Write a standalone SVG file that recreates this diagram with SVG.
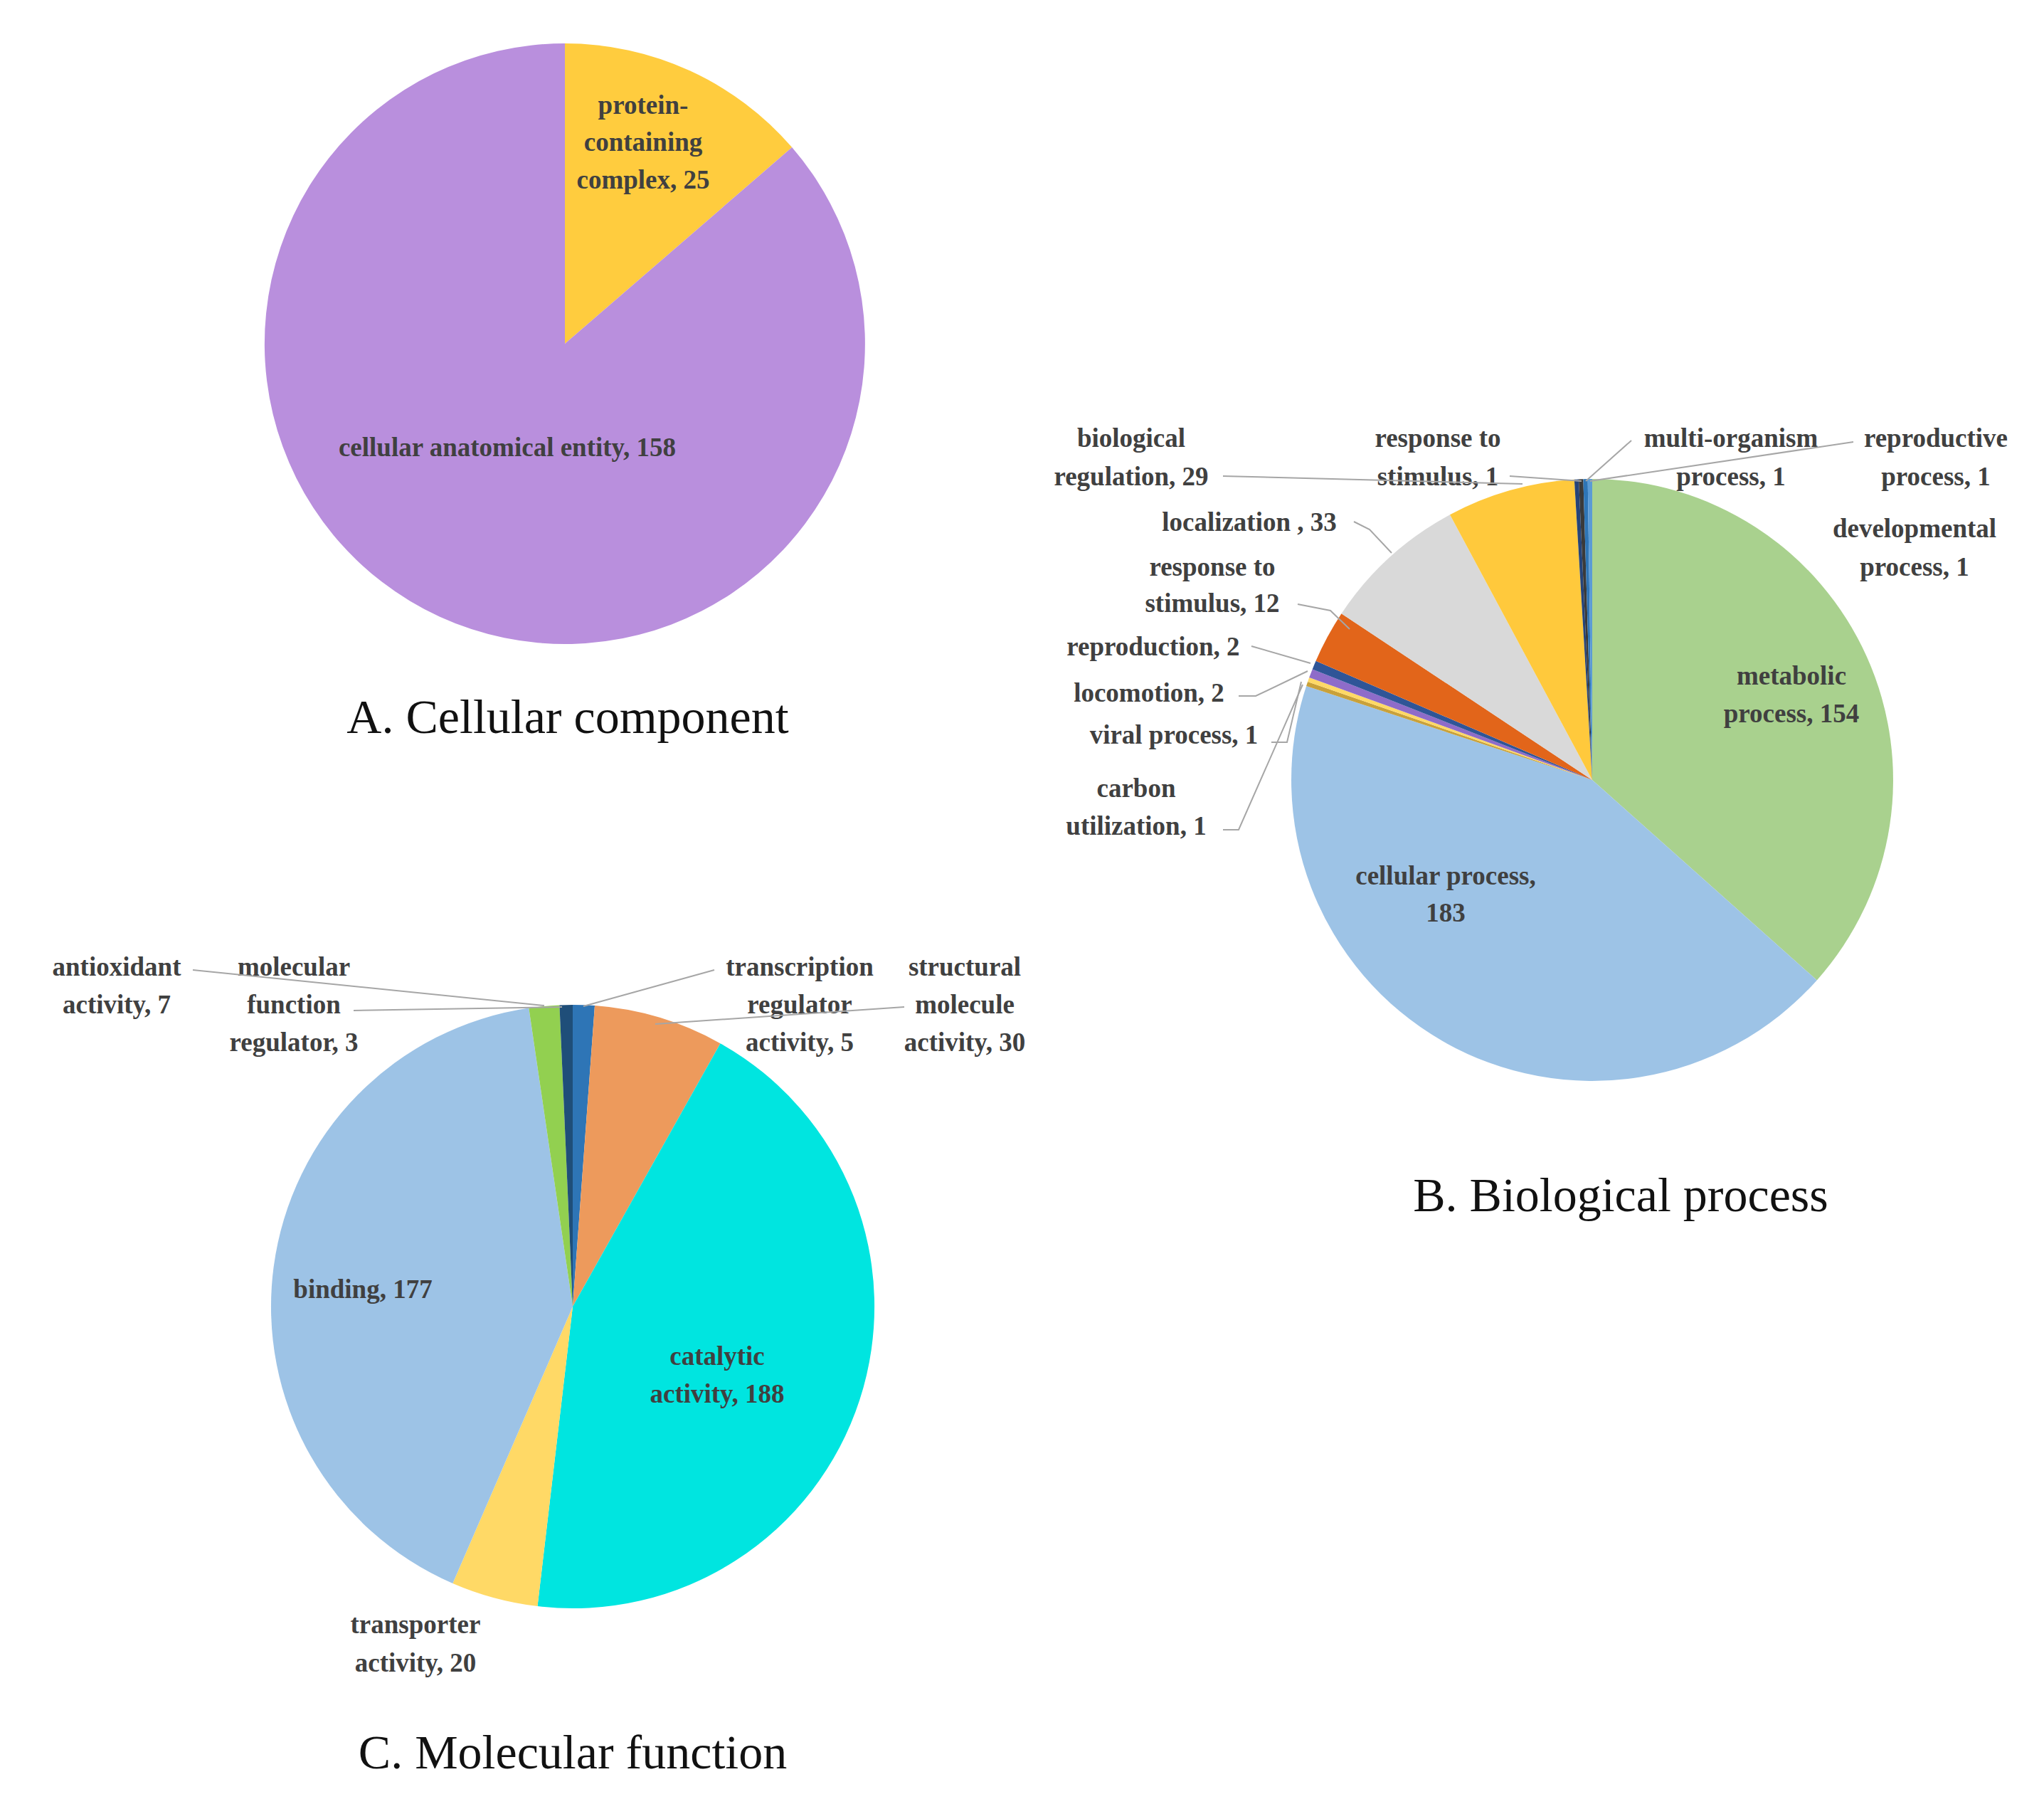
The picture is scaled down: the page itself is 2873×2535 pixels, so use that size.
<svg xmlns="http://www.w3.org/2000/svg" width="2873" height="2535" viewBox="0 0 2873 2535">
<style>
.l{font-family:"Liberation Serif",serif;font-weight:bold;font-size:37px;fill:#404040;text-anchor:middle}
.t{font-family:"Liberation Serif",serif;font-size:68px;fill:#111;text-anchor:middle}
.ln{stroke:#a6a6a6;stroke-width:2;fill:none}
</style>
<rect width="2873" height="2535" fill="#fff"/>
<g id="pieA">
<path d="M794,483 L794,61 A422,422 0 0 1 1113.2,207.1 Z" fill="#ffcc3e"/>
<path d="M794,483 L1113.2,207.1 A422,422 0 1 1 794,61 Z" fill="#b98fdd"/>
<text class="l" x="904" y="160">protein-</text>
<text class="l" x="904" y="212">containing</text>
<text class="l" x="904" y="265">complex, 25</text>
<text class="l" x="713" y="641">cellular anatomical entity, 158</text>
<text class="t" x="798" y="1030">A. Cellular component</text>
</g>
<g id="pieB">
<path d="M2238,1096 L2238,673 A423,423 0 0 1 2553.8,1377.4 Z" fill="#a9d18e"/>
<path d="M2238,1096 L2553.8,1377.4 A423,423 0 0 1 1836.1,964.1 Z" fill="#9dc3e6"/>
<path d="M2238,1096 L1836.1,964.1 A423,423 0 0 1 1838.1,958.1 Z" fill="#c9a13a"/>
<path d="M2238,1096 L1838.1,958.1 A423,423 0 0 1 1840.2,952.1 Z" fill="#ffd966"/>
<path d="M2238,1096 L1840.2,952.1 A423,423 0 0 1 1844.7,940.4 Z" fill="#8e6cc9"/>
<path d="M2238,1096 L1844.7,940.4 A423,423 0 0 1 1849.5,928.7 Z" fill="#2f5597"/>
<path d="M2238,1096 L1849.5,928.7 A423,423 0 0 1 1885.5,862.2 Z" fill="#e2651a"/>
<path d="M2238,1096 L1885.5,862.2 A423,423 0 0 1 2038,723.3 Z" fill="#d9d9d9"/>
<path d="M2238,1096 L2038,723.3 A423,423 0 0 1 2212.8,673.8 Z" fill="#ffc93c"/>
<path d="M2238,1096 L2212.8,673.8 A423,423 0 0 1 2219,673.4 Z" fill="#264478"/>
<path d="M2238,1096 L2219,673.4 A423,423 0 0 1 2225.4,673.2 Z" fill="#3a3a3a"/>
<path d="M2238,1096 L2225.4,673.2 A423,423 0 0 1 2231.7,673 Z" fill="#2e75b6"/>
<path d="M2238,1096 L2231.7,673 A423,423 0 0 1 2238,673 Z" fill="#5b9bd5"/>
<text class="l" x="1590" y="628">biological</text>
<text class="l" x="1590" y="682">regulation, 29</text>
<text class="l" x="2021" y="628">response to</text>
<text class="l" x="2021" y="682">stimulus, 1</text>
<text class="l" x="2433" y="628">multi-organism</text>
<text class="l" x="2433" y="682">process, 1</text>
<text class="l" x="2721" y="628">reproductive</text>
<text class="l" x="2721" y="682">process, 1</text>
<text class="l" x="2691" y="755">developmental</text>
<text class="l" x="2691" y="809">process, 1</text>
<text class="l" x="1756" y="746">localization , 33</text>
<text class="l" x="1704" y="809">response to</text>
<text class="l" x="1704" y="860">stimulus, 12</text>
<text class="l" x="1621" y="921">reproduction, 2</text>
<text class="l" x="1615" y="986">locomotion, 2</text>
<text class="l" x="1650" y="1045">viral process, 1</text>
<text class="l" x="1597" y="1120">carbon</text>
<text class="l" x="1597" y="1173">utilization, 1</text>
<text class="l" x="2518" y="962">metabolic</text>
<text class="l" x="2518" y="1015">process, 154</text>
<text class="l" x="2032" y="1243">cellular process,</text>
<text class="l" x="2032" y="1295">183</text>
<text class="t" x="2278" y="1702">B. Biological process</text>
</g>
<g id="pieC">
<path d="M805,1836 L805,1412 A424,424 0 0 1 836,1413.1 Z" fill="#2e75b6"/>
<path d="M805,1836 L836,1413.1 A424,424 0 0 1 1012.5,1466.2 Z" fill="#ed9a5c"/>
<path d="M805,1836 L1012.5,1466.2 A424,424 0 0 1 755.5,2257.1 Z" fill="#00e5e0"/>
<path d="M805,1836 L755.5,2257.1 A424,424 0 0 1 636.3,2225 Z" fill="#ffd966"/>
<path d="M805,1836 L636.3,2225 A424,424 0 0 1 743.3,1416.5 Z" fill="#9dc3e6"/>
<path d="M805,1836 L743.3,1416.5 A424,424 0 0 1 786.4,1412.4 Z" fill="#92d050"/>
<path d="M805,1836 L786.4,1412.4 A424,424 0 0 1 805,1412 Z" fill="#1f4e79"/>
<text class="l" x="164" y="1371">antioxidant</text>
<text class="l" x="164" y="1424">activity, 7</text>
<text class="l" x="413" y="1371">molecular</text>
<text class="l" x="413" y="1424">function</text>
<text class="l" x="413" y="1477">regulator, 3</text>
<text class="l" x="1124" y="1371">transcription</text>
<text class="l" x="1124" y="1424">regulator</text>
<text class="l" x="1124" y="1477">activity, 5</text>
<text class="l" x="1356" y="1371">structural</text>
<text class="l" x="1356" y="1424">molecule</text>
<text class="l" x="1356" y="1477">activity, 30</text>
<text class="l" x="510" y="1824">binding, 177</text>
<text class="l" x="1008" y="1918">catalytic</text>
<text class="l" x="1008" y="1971">activity, 188</text>
<text class="l" x="584" y="2295">transporter</text>
<text class="l" x="584" y="2349">activity, 20</text>
<text class="t" x="805" y="2485">C. Molecular function</text>
</g>
<g id="connectors">
<polyline class="ln" points="1719,669 2140,680"/>
<polyline class="ln" points="2122,669 2223,676"/>
<polyline class="ln" points="2293,619 2229,676"/>
<polyline class="ln" points="2605,621 2235,676"/>
<polyline class="ln" points="1903,733 1925,744 1956,777"/>
<polyline class="ln" points="1824,849 1870,858 1897,884"/>
<polyline class="ln" points="1759,908 1842,932"/>
<polyline class="ln" points="1741,978 1765,978 1838,943"/>
<polyline class="ln" points="1787,1043 1809,1043 1829,958"/>
<polyline class="ln" points="1719,1166 1741,1166 1831,962"/>
<polyline class="ln" points="271,1363 765,1413"/>
<polyline class="ln" points="497,1420 790,1415"/>
<polyline class="ln" points="1004,1363 820,1414"/>
<polyline class="ln" points="1271,1415 921,1439"/>
</g>
</svg>
